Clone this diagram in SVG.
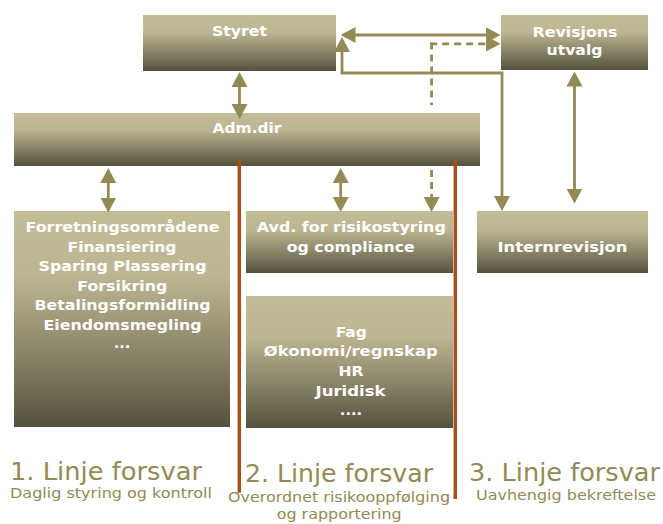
<svg xmlns="http://www.w3.org/2000/svg" width="663" height="524" viewBox="0 0 663 524">
<style>
.box{fill:url(#g)}
.t{font-family:"DejaVu Sans",Verdana,sans-serif;font-weight:bold;font-size:14.7px;fill:#FFFFFF;text-anchor:middle}
.c{fill:none;stroke:#948A54;stroke-width:2.8}
.d{fill:none;stroke:#948A54;stroke-width:2.8;stroke-dasharray:7 5}
.sep{stroke:#A4511D;stroke-width:3.5}
.big{font-family:"DejaVu Sans",Tahoma,sans-serif;font-size:24px;fill:#948A54}
.small{font-family:"DejaVu Sans",Tahoma,sans-serif;font-size:14px;fill:#948A54}
</style>
<defs>
<linearGradient id="g" x1="0" y1="0" x2="0" y2="1">
<stop offset="0" stop-color="#C4BC97"/>
<stop offset="0.3" stop-color="#BEB692"/>
<stop offset="0.65" stop-color="#8B8569"/>
<stop offset="1" stop-color="#56513E"/>
</linearGradient>
<marker id="ah" viewBox="0 0 15 16" refX="9" refY="8" markerWidth="15" markerHeight="16" markerUnits="userSpaceOnUse" orient="auto-start-reverse">
<path d="M0,0 L15,8 L0,16 z" fill="#948A54"/>
</marker>
</defs>

<g id="styret"><rect class="box" x="143" y="15" width="193" height="56"/><text class="t" x="239.5" y="36" textLength="55" lengthAdjust="spacingAndGlyphs">Styret</text></g>
<g id="revisjonsutvalg"><rect class="box" x="501" y="15" width="147" height="55"/><text class="t" x="575" y="36.7" textLength="85" lengthAdjust="spacingAndGlyphs">Revisjons</text><text class="t" x="574.5" y="55" textLength="56" lengthAdjust="spacingAndGlyphs">utvalg</text></g>
<g id="admdir"><rect class="box" x="14" y="113" width="466" height="53"/><text class="t" x="247" y="133.3" textLength="69" lengthAdjust="spacingAndGlyphs">Adm.dir</text></g>
<g id="forretning"><rect class="box" x="14" y="211" width="216" height="216"/>
<text class="t" x="122.5" y="232.3" textLength="194" lengthAdjust="spacingAndGlyphs">Forretningsområdene</text>
<text class="t" x="122" y="251.7" textLength="109" lengthAdjust="spacingAndGlyphs">Finansiering</text>
<text class="t" x="122.5" y="271.1" textLength="168" lengthAdjust="spacingAndGlyphs">Sparing Plassering</text>
<text class="t" x="122.3" y="290.5" textLength="90" lengthAdjust="spacingAndGlyphs">Forsikring</text>
<text class="t" x="122.5" y="310" textLength="176" lengthAdjust="spacingAndGlyphs">Betalingsformidling</text>
<text class="t" x="122.5" y="329.6" textLength="158" lengthAdjust="spacingAndGlyphs">Eiendomsmegling</text>
<text class="t" x="122" y="348">...</text></g>
<g id="risiko"><rect class="box" x="246" y="211" width="207" height="62"/>
<text class="t" x="351.3" y="232.3" textLength="189" lengthAdjust="spacingAndGlyphs">Avd. for risikostyring</text>
<text class="t" x="350.8" y="251.7" textLength="128" lengthAdjust="spacingAndGlyphs">og compliance</text></g>
<g id="internrevisjon"><rect class="box" x="477" y="211" width="171" height="62"/>
<text class="t" x="562.5" y="251.7" textLength="130" lengthAdjust="spacingAndGlyphs">Internrevisjon</text></g>
<g id="fag"><rect class="box" x="246" y="296" width="207" height="132"/>
<text class="t" x="351.2" y="336.7" textLength="31" lengthAdjust="spacingAndGlyphs">Fag</text>
<text class="t" x="350.8" y="356.4" textLength="174" lengthAdjust="spacingAndGlyphs">Økonomi/regnskap</text>
<text class="t" x="351" y="376" textLength="25" lengthAdjust="spacingAndGlyphs">HR</text>
<text class="t" x="350.5" y="395.7" textLength="70" lengthAdjust="spacingAndGlyphs">Juridisk</text>
<text class="t" x="351" y="415">....</text></g>

<g id="connectors">
<line class="c" x1="239.5" y1="78" x2="239.5" y2="113" marker-start="url(#ah)" marker-end="url(#ah)"/>
<line class="c" x1="108.3" y1="174" x2="108.3" y2="206.5" marker-start="url(#ah)" marker-end="url(#ah)"/>
<line class="c" x1="340.7" y1="174" x2="340.7" y2="206" marker-start="url(#ah)" marker-end="url(#ah)"/>
<line class="c" x1="346.5" y1="35" x2="494.5" y2="35" marker-start="url(#ah)" marker-end="url(#ah)"/>
<path class="c" d="M342,43 V73 H502 V205" marker-start="url(#ah)" marker-end="url(#ah)"/>
<line class="c" x1="574.5" y1="77.5" x2="574.5" y2="197.5" marker-start="url(#ah)" marker-end="url(#ah)"/>
<path class="d" d="M430.2,43.8 H494.5" marker-end="url(#ah)"/>
<path class="d" d="M431.6,42.5 V105"/>
<path class="d" d="M431.6,170 V206" marker-end="url(#ah)"/>
</g>

<g id="separators">
<line class="sep" x1="239.3" y1="159.5" x2="239.3" y2="492.7"/>
<line class="sep" x1="455.3" y1="159.5" x2="455.3" y2="499"/>
</g>

<g id="labels">
<text class="big" x="10" y="479.5" textLength="192" lengthAdjust="spacingAndGlyphs">1. Linje forsvar</text>
<text class="small" x="10" y="498.3" textLength="202" lengthAdjust="spacingAndGlyphs">Daglig styring og kontroll</text>
<text class="big" x="245" y="481.7" textLength="188" lengthAdjust="spacingAndGlyphs">2. Linje forsvar</text>
<text class="small" x="228" y="501.7" textLength="222" lengthAdjust="spacingAndGlyphs">Overordnet risikooppfølging</text>
<text class="small" x="276.7" y="519" textLength="125" lengthAdjust="spacingAndGlyphs">og rapportering</text>
<text class="big" x="469" y="481" textLength="191" lengthAdjust="spacingAndGlyphs">3. Linje forsvar</text>
<text class="small" x="476" y="500" textLength="180" lengthAdjust="spacingAndGlyphs">Uavhengig bekreftelse</text>
</g>
</svg>
